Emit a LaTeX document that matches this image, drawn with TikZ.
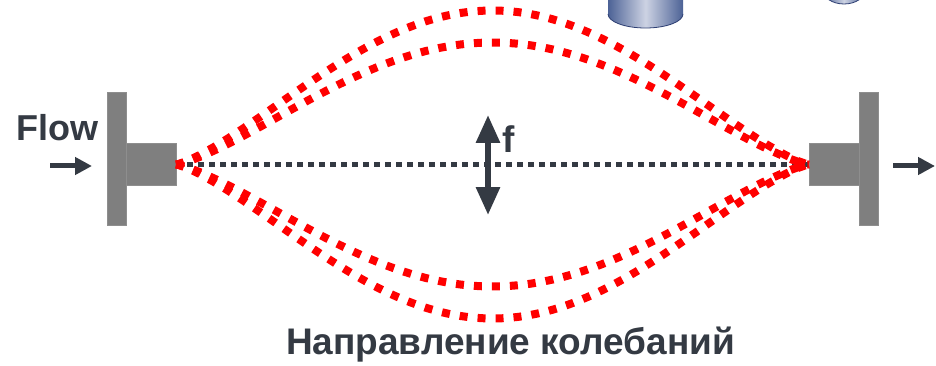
\documentclass[tikz,border=0pt]{standalone}
\usepackage{fontspec}
\setmainfont{Liberation Sans}
\usetikzlibrary{arrows.meta}
\definecolor{ink}{HTML}{343A43}
\definecolor{steel}{HTML}{7F7F7F}
\definecolor{steeledge}{HTML}{8E8E8E}
\definecolor{wave}{HTML}{FF0000}
\definecolor{tankdark}{HTML}{4C6296}
\definecolor{tanklight}{HTML}{CDD3E3}
\definecolor{tankline}{HTML}{2E3F73}
\begin{document}
\begin{tikzpicture}[x=1pt,y=-1pt,
  flange/.style={draw=steeledge,line width=1pt,fill=steel,inner sep=0pt,outer sep=0pt},
  flowarrow/.style={draw=ink,line width=5pt,-{Triangle[length=17pt,width=17pt]}},
  forcearrow/.style={draw=ink,line width=6pt,{Triangle[length=28pt,width=23pt]}-{Triangle[length=28pt,width=23pt]}},
  axisline/.style={draw=ink,line width=5pt,dash pattern=on 6pt off 5pt},
  modeline/.style={draw=wave,line width=8pt,dash pattern=on 8pt off 10pt},
  label/.style={text=ink,inner sep=0pt,font=\bfseries}]
\clip (0,0) rectangle (936,366);
\fill[white] (0,0) rectangle (936,366);

% storage tanks partly out of frame
\shade[left color=tankdark,right color=tankdark,middle color=tanklight]
  (608,-5) -- (608,14) arc[start angle=180,end angle=0,x radius=37.5,y radius=14] -- (683,-5) -- cycle;
\draw[tankline,line width=0.8pt] (608,14) arc[start angle=180,end angle=0,x radius=37.5,y radius=14];
\shade[left color=tankdark,right color=tankdark,middle color=tanklight]
  (823,-20) -- (823,-10) arc[start angle=180,end angle=0,x radius=21,y radius=14] -- (865,-20) -- cycle;
\draw[tankline,line width=0.8pt] (823,-10) arc[start angle=180,end angle=0,x radius=21,y radius=14];

% pipe supports
\node[flange,minimum width=19pt,minimum height=132pt] (flangeL) at (116.5,159) {};
\node[flange,minimum width=50pt,minimum height=42pt,anchor=west] (stubL) at (flangeL.east |- 0,164.5) {};
\node[flange,minimum width=19pt,minimum height=132pt] (flangeR) at (868.5,159) {};
\node[flange,minimum width=50pt,minimum height=42pt,anchor=east] (stubR) at (flangeR.west |- 0,164.5) {};

% rest position of the pipe
\draw[axisline] (stubL.east) -- (stubR.west);

% vibration mode shapes
\foreach \amp in {154,122,-122,-154}{
  \draw[modeline] (stubL.east) -- plot[domain=0.004:0.996,samples=90]
    ({176+633*\x},{164.5-\amp*(sin(180*\x))^1.3}) -- (stubR.west);
}

% flow direction
\coordinate (inA) at (50,166);
\coordinate (inB) at (92,166);
\coordinate (outA) at (893,166);
\coordinate (outB) at (935,166);
\draw[flowarrow] (inA) -- (inB);
\draw[flowarrow] (outA) -- (outB);
\node[label,anchor=base west,font=\fontsize{36}{40}\selectfont\bfseries] (flow) at (16,141) {Flow};

% excitation force
\coordinate (fTop) at (488,115);
\coordinate (fBot) at (488,215);
\draw[forcearrow] (fBot) -- (fTop);
\node[label,anchor=base west,font=\fontsize{37}{42}\selectfont\bfseries] (force) at (502,153) {f};

\node[label,anchor=base,font=\fontsize{37}{42}\selectfont\bfseries] (caption) at (510.5,354) {Направление колебаний};
\end{tikzpicture}
\end{document}
